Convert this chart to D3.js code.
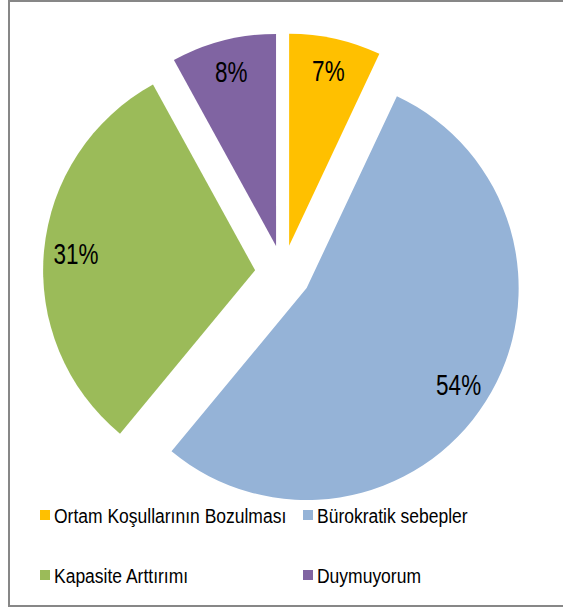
<!DOCTYPE html>
<html>
<head>
<meta charset="utf-8">
<script src="https://cdn.jsdelivr.net/npm/d3@7"></script>
<style>
  html, body { margin: 0; padding: 0; background: #fff; }
  svg { display: block; font-family: "Liberation Sans", Arial, sans-serif; }
</style>
</head>
<body>
<svg id="chart" width="563" height="610"></svg>
<script>
// Survey answers and their shares (percent)
const categories = ["Ortam Koşullarının Bozulması", "Bürokratik sebepler", "Kapasite Arttırımı", "Duymuyorum"];
const values = [7, 54, 31, 8];
const colors = ["#FFC000", "#95B3D7", "#9BBB59", "#8064A2"];

const svg = d3.select("#chart");
const W = 563, H = 610;

// outer frame
svg.append("rect")
  .attr("x", 9).attr("y", 1)
  .attr("width", W + 10).attr("height", 605)
  .attr("fill", "#fff")
  .attr("stroke", "#878787")
  .attr("stroke-width", 2);

const cx = 283, cy = 273;      // pie centre
const R = 212;                 // slice radius
const explode = 28;            // distance each slice is pulled out
const labelR = 180;            // radius where the percentage labels sit

const pie = d3.pie().sort(null).value(d => d.value).startAngle(0).endAngle(2 * Math.PI);
const arcs = pie(categories.map((c, i) => ({ name: c, value: values[i], color: colors[i] })));

const arc = d3.arc().innerRadius(0).outerRadius(R);
const labelArc = d3.arc().innerRadius(labelR).outerRadius(labelR);
const shift = d3.arc().innerRadius(explode).outerRadius(explode);

const gPie = svg.append("g").attr("transform", `translate(${cx},${cy})`);

const slice = gPie.selectAll("g.slice")
  .data(arcs)
  .join("g")
  .attr("class", "slice")
  .attr("transform", d => {
    const [dx, dy] = shift.centroid(d);
    return `translate(${dx},${dy})`;
  });

slice.append("path")
  .attr("d", arc)
  .attr("fill", d => d.data.color);

const total = d3.sum(values);
slice.append("text")
  .attr("transform", d => {
    const [x, y] = labelArc.centroid(d);
    return `translate(${x},${y}) scale(1,1.35)`;
  })
  .attr("text-anchor", "middle")
  .attr("y", "0.358em")
  .attr("font-size", 22.5)
  .attr("fill", "#000")
  .text(d => Math.round(d.data.value / total * 100) + "%");

// legend: two columns, two rows
const legendCols = [40, 303];
const legendRows = [523, 583];
const legend = svg.append("g");
const item = legend.selectAll("g.item")
  .data(arcs)
  .join("g")
  .attr("class", "item")
  .attr("transform", (d, i) => `translate(${legendCols[i % 2]},${legendRows[Math.floor(i / 2)]})`);

item.append("rect")
  .attr("x", 0).attr("y", -13)
  .attr("width", 10).attr("height", 10)
  .attr("fill", d => d.data.color);

item.append("text")
  .attr("x", 14)
  .attr("transform", "scale(1,1.15)")
  .attr("font-size", 17.5)
  .attr("fill", "#000")
  .text(d => d.data.name);
</script>
</body>
</html>
